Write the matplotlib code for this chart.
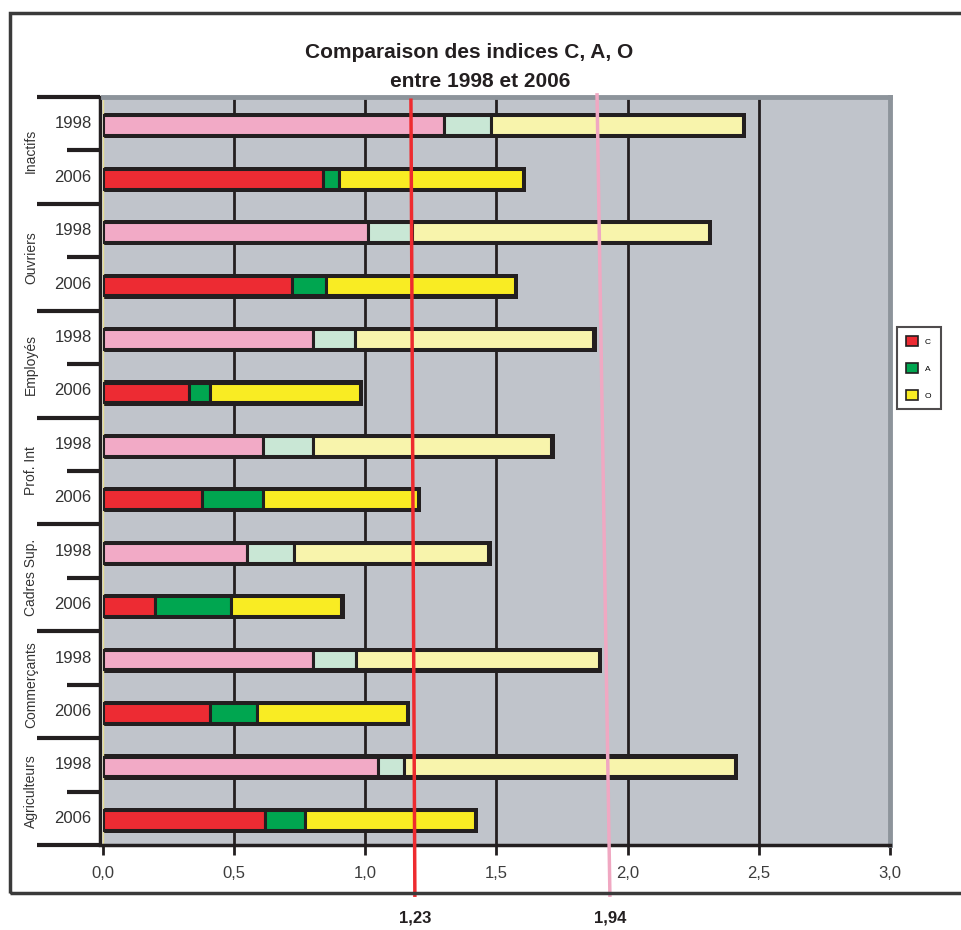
import numpy as np
import matplotlib
matplotlib.use('Agg')
import matplotlib.pyplot as plt
from matplotlib.patches import Patch, Rectangle

plt.rcParams['font.family'] = ['Liberation Sans Narrow', 'Liberation Sans', 'DejaVu Sans']

# data
categories = ['Inactifs', 'Ouvriers', 'Employés', 'Prof. Int', 'Cadres Sup.', 'Commerçants', 'Agriculteurs']
years = ['1998', '2006']
c_1998 = [1.30, 1.01, 0.80, 0.61, 0.55, 0.80, 1.05]
a_1998 = [0.18, 0.17, 0.16, 0.19, 0.18, 0.165, 0.10]
o_1998 = [0.96, 1.13, 0.91, 0.91, 0.74, 0.925, 1.26]
c_2006 = [0.84, 0.72, 0.33, 0.38, 0.20, 0.41, 0.62]
a_2006 = [0.06, 0.13, 0.08, 0.23, 0.29, 0.18, 0.15]
o_2006 = [0.70, 0.72, 0.57, 0.59, 0.42, 0.57, 0.65]
ref_values = [1.23, 1.94]
# where the two reference lines are drawn (top x, bottom x)
ref_line_x = [(1.175, 1.19), (1.884, 1.933)]
ref_line_top = [-0.44, -0.54]
xticks = [0.0, 0.5, 1.0, 1.5, 2.0, 2.5, 3.0]

col_1998 = ['#f2aac6', '#c9e7d5', '#f8f4ac']
col_2006 = ['#ed2b33', '#00a650', '#f9ec23']
dark = '#231f20'

fig = plt.figure(figsize=(9.61, 9.30), dpi=100)
ax = fig.add_axes([102.5 / 961, 1 - 845 / 930, 787.5 / 961, 748 / 930])
ax.set_facecolor('#c0c4cb')
ax.set_xlim(0, 3)
ax.set_ylim(13.5, -0.5)

# vertical grid lines
ax.vlines(xticks[1:-1], -0.5, 13.5, color=dark, lw=2, zorder=1)

# build rows: category by category, 1998 then 2006
rows = []
for i in range(len(categories)):
    rows.append(([c_1998[i], a_1998[i], o_1998[i]], col_1998))
    rows.append(([c_2006[i], a_2006[i], o_2006[i]], col_2006))

for y, (vals, cols) in enumerate(rows):
    yy = y + 0.03
    total = sum(vals)
    # dark frame / shadow behind each bar
    ax.barh(yy + 0.01, total + 0.012, height=0.47, left=0, color=dark, zorder=2)
    left = 0
    for v, c in zip(vals, cols):
        ax.barh(yy, v, left=left, height=0.37, color=c, edgecolor=dark,
                linewidth=2.2, zorder=3)
        left += v

# axes styling
ax.set_xticks(xticks)
ax.set_xticklabels([f'{v:.1f}'.replace('.', ',') for v in xticks])
ax.set_yticks([])
ax.tick_params(axis='x', length=7, width=2, color=dark, pad=8,
               labelsize=12, labelcolor='#3d3d3d')
ax.spines['bottom'].set_color(dark)
ax.spines['bottom'].set_linewidth(2.5)
for s in ['top', 'right']:
    ax.spines[s].set_color('#8d949b')
    ax.spines[s].set_linewidth(3.5)
ax.spines['left'].set_color('#e5dd95')
ax.spines['left'].set_linewidth(1)

# category brackets on the left
tr = ax.get_yaxis_transform()
ax.plot([-0.0032, -0.0032], [-0.5, 13.5], color=dark, lw=2.5, transform=tr, clip_on=False)
for k in range(len(categories) + 1):
    ax.plot([-0.0832, -0.003], [2 * k - 0.5] * 2, color=dark, lw=3,
            transform=tr, clip_on=False, solid_capstyle='butt')
for k in range(len(categories)):
    ax.plot([-0.0451, -0.003], [2 * k + 0.5] * 2, color=dark, lw=3,
            transform=tr, clip_on=False, solid_capstyle='butt')
    ax.text(-0.0905, 2 * k + 0.5, categories[k], rotation=90, ha='center', va='center',
            fontsize=10, color='#333333', transform=tr)
    for j, yr in enumerate(years):
        ax.text(-0.0375, 2 * k + j, yr, ha='center', va='center', fontsize=12,
                color='#333333', transform=tr)

# reference lines
for (xt, xb), yt, val, c in zip(ref_line_x, ref_line_top, ref_values, ['#ee2b2f', '#f0a8c2']):
    ax.plot([xt, xb], [yt, 14.44], color=c, lw=2.5, clip_on=False, zorder=5)
    ax.text(xb, 14.87, f'{val:.2f}'.replace('.', ','), ha='center', va='center',
            fontsize=12, fontweight='bold', color='#231f20')

# legend
handles = [Patch(facecolor=c, edgecolor=dark, linewidth=1.2) for c in col_2006]
leg = ax.legend(handles, ['C', 'A', 'O'], loc='center',
                bbox_to_anchor=(918.5 / 961, 1 - 368 / 930), bbox_transform=fig.transFigure,
                fontsize=6, fancybox=False, edgecolor=dark, handlelength=1.5,
                handleheight=1.5, labelspacing=2.0, borderpad=1.1, handletextpad=0.8)
leg.get_frame().set_linewidth(1.5)

# title
fig.text(469 / 961, 1 - 53 / 930, 'Comparaison des indices C, A, O', ha='center', va='center',
         fontsize=15, fontweight='bold', color='#231f20')
fig.text(480 / 961, 1 - 81 / 930, 'entre 1998 et 2006', ha='center', va='center',
         fontsize=15, fontweight='bold', color='#231f20')

# outer frame
fig.patches.append(Rectangle((10 / 961, 1 - 893 / 930), 975 / 961, 880 / 930,
                             transform=fig.transFigure, fill=False,
                             edgecolor='#3a3a3a', linewidth=2.5))

fig.savefig('out.png', dpi=100)
